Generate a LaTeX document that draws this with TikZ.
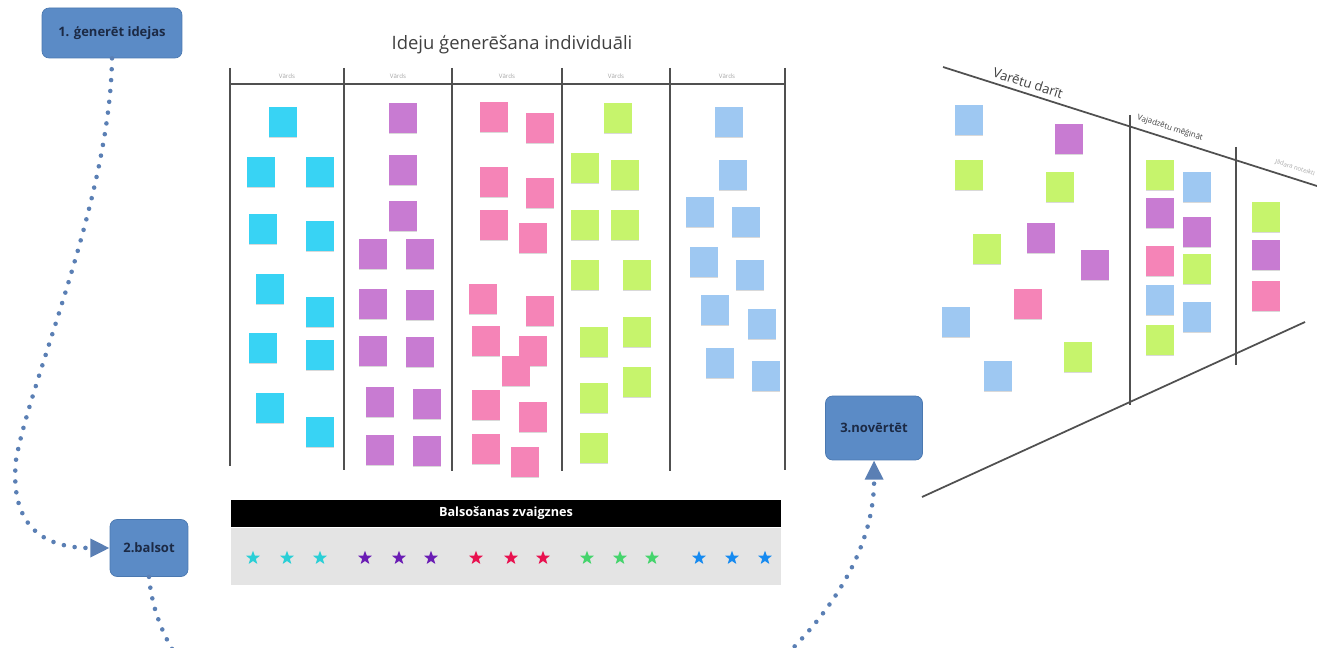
\documentclass[tikz,border=0pt]{standalone}
\usepackage{fontspec}
\setmainfont{Open Sans}
\usepackage{tikz}
\usetikzlibrary{shapes.geometric, arrows.meta, positioning, shadows}

\definecolor{stepblue}{HTML}{5B8BC6}
\definecolor{stepedge}{HTML}{4A78B0}
\definecolor{steptext}{HTML}{1C2A45}
\definecolor{dotblue}{HTML}{5A7FB4}
\definecolor{notecyan}{HTML}{38D3F4}
\definecolor{notepurple}{HTML}{C87BD2}
\definecolor{notepink}{HTML}{F584B7}
\definecolor{notelime}{HTML}{C6F46C}
\definecolor{noteblue}{HTML}{9EC8F2}
\definecolor{starcyan}{HTML}{2ACFD6}
\definecolor{starpurple}{HTML}{6A1CB4}
\definecolor{starred}{HTML}{E8114F}
\definecolor{stargreen}{HTML}{45D46C}
\definecolor{starblue}{HTML}{168AF0}
\definecolor{boardline}{HTML}{505050}
\definecolor{votebg}{HTML}{E4E4E4}

\begin{document}
\begin{tikzpicture}[x=0.02cm, y=-0.02cm,
  sbox/.style={rectangle, draw=stepedge, fill=stepblue, rounded corners=4pt,
               text=steptext, align=center, font=\fontsize{7.4}{9}\selectfont\bfseries},
  note/.style={rectangle, minimum width=0.56cm, minimum height=0.6cm, inner sep=0pt,
               drop shadow={shadow xshift=0pt, shadow yshift=-0.7pt, opacity=0.3}},
  vstar/.style={star, star points=5, star point ratio=2.4, minimum size=0.29cm, inner sep=0pt},
  bline/.style={draw=boardline, line width=1pt},
  hdr/.style={font=\fontsize{3.5}{4}\selectfont, text=gray!70},
  flbl/.style={text=black!75, rotate=-17.6},
  dotlink/.style={dotblue, line width=2.6pt, line cap=round, dash pattern=on 0pt off 6.2pt,
                  -{Triangle[length=11pt, width=10pt]}}
]
\useasboundingbox (0,0) rectangle (1317,648);
\clip (0,0) rectangle (1317,648);

%% Board for individual ideas
\node[font=\fontsize{10.5}{12}\selectfont, text=black!75] (title) at (512,45) {Ideju ģenerēšana individuāli};
\foreach \x/\b in {230/466,344/470,452/471,562/471,670/471,785/470}
  \draw[bline] (\x,68) -- (\x,\b);
\draw[bline] (230,84) -- (785,84);
\foreach \x [count=\i] in {287,398,507,616,727}
  \node[hdr] (hd\i) at (\x,76) {Vārds};

%% Sticky notes, one colour per column
\foreach \x/\y [count=\i] in {283/122,261/172,320/172,263/229,320/236,270/289,
    320/312,263/348,320/355,270/408,320/432}
  \node[note, fill=notecyan] (cy\i) at (\x,\y) {};
\foreach \x/\y [count=\i] in {403/118,403/170,403/216,373/254,420/254,373/304,420/305,
    373/351,420/352,380/402,427/404,380/450,427/451}
  \node[note, fill=notepurple] (pu\i) at (\x,\y) {};
\foreach \x/\y [count=\i] in {494/117,540/128,494/182,540/193,494/225,533/238,483/299,
    540/311,486/341,533/351,516/371,486/405,533/417,486/449,525/462}
  \node[note, fill=notepink] (pk\i) at (\x,\y) {};
\foreach \x/\y [count=\i] in {618/118,585/168,625/175,585/225,625/225,585/275,637/275,
    594/342,637/332,594/398,637/382,594/448}
  \node[note, fill=notelime] (li\i) at (\x,\y) {};
\foreach \x/\y [count=\i] in {729/122,733/175,700/212,746/222,704/262,750/275,
    715/310,762/324,720/363,766/376}
  \node[note, fill=noteblue] (lb\i) at (\x,\y) {};

%% Voting stars
\node[fill=black, text=white, minimum width=11cm, minimum height=0.54cm, inner sep=0pt,
      font=\fontsize{7.2}{9}\selectfont\bfseries] (vhead) at (506,513.5) {Balsošanas zvaigznes};
\node[fill=votebg, minimum width=11cm, minimum height=1.14cm, inner sep=0pt,
      below=0pt of vhead] (vbar) {};
\foreach \x/\c [count=\i] in {253/starcyan,287/starcyan,320/starcyan,
    365/starpurple,399/starpurple,431/starpurple,476/starred,511/starred,543/starred,
    587/stargreen,620/stargreen,652/stargreen,699/starblue,732/starblue,765/starblue}
  \node[vstar, fill=\c] (st\i) at (\x,558) {};

%% Evaluation funnel
\draw[bline] (943,67) -- (1317,186);
\draw[bline] (922,497) -- (1305,322);
\draw[bline] (1130,115) -- (1130,405);
\draw[bline] (1236,147) -- (1236,365);
\node[flbl, font=\fontsize{7.5}{9}\selectfont] (fl1) at (1028,83) {Varētu darīt};
\node[flbl, font=\fontsize{4.5}{5}\selectfont] (fl2) at (1170,128) {Vajadzētu mēģināt};
\node[flbl, font=\fontsize{3.5}{4}\selectfont, text=gray!70] (fl3) at (1295,168) {Jādara noteikti};
\foreach \x/\y/\c [count=\i] in {969/120/noteblue,1069/139/notepurple,969/175/notelime,
    1060/187/notelime,987/249/notelime,1041/238/notepurple,1095/265/notepurple,
    1028/304/notepink,956/322/noteblue,1078/357/notelime,998/376/noteblue,
    1160/175/notelime,1197/187/noteblue,1160/213/notepurple,1197/232/notepurple,
    1160/261/notepink,1197/269/notelime,1160/300/noteblue,1197/317/noteblue,
    1160/340/notelime,1266/217/notelime,1266/255/notepurple,1266/296/notepink}
  \node[note, fill=\c] (fn\i) at (\x,\y) {};

%% Steps
\node[sbox, minimum width=2.8cm, minimum height=1cm] (gen) at (112,33) {1. ģenerēt idejas};
\node[sbox, minimum width=1.56cm, minimum height=1.14cm] (vote) at (149,548) {2.balsot};
\node[sbox, minimum width=1.94cm, minimum height=1.28cm] (rate) at (874,428) {3.novērtēt};

%% Dotted flow
\coordinate (low) at (500,790);
\draw[dotlink] (gen.south) .. controls (110,200) and (30,380) .. (16,460)
  .. controls (8,540) and (60,548) .. (vote.west);
\draw[dotlink] (vote.south) .. controls (160,700) and (300,790) .. (low)
  .. controls (640,790) and (875,640) .. (rate.south);
\end{tikzpicture}
\end{document}
